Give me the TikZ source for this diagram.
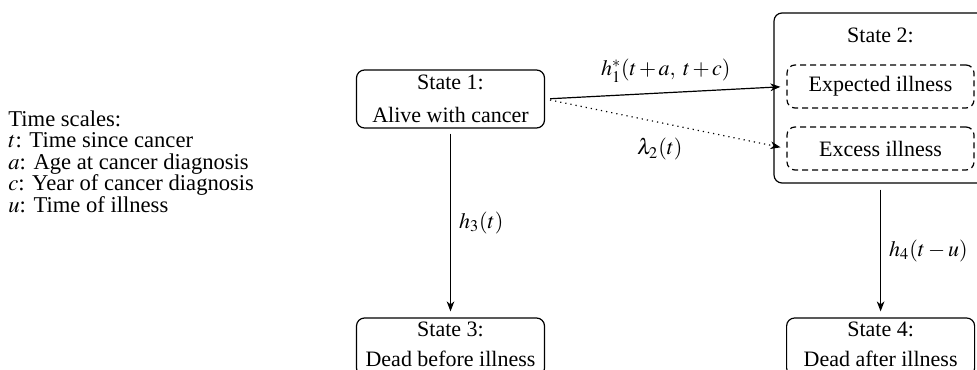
\documentclass[tikz,border=0pt]{standalone}
\usepackage{mathptmx}
\usepackage[no-math]{fontspec}
\setmainfont{Liberation Serif}
\usetikzlibrary{arrows.meta,calc}
\begin{document}
\begin{tikzpicture}[x=0.5pt,y=-0.5pt,
  txt/.style={font=\fontsize{11}{16.5}\selectfont},
  statebox/.style={txt, draw, line width=0.6pt, rounded corners=4pt,
    minimum width=94pt, minimum height=29pt, inner sep=0pt, align=center},
  lowbox/.style={statebox, font=\fontsize{11}{15}\selectfont, text depth=3pt},
  subbox/.style={txt, draw, line width=0.6pt, rounded corners=4pt,
    dash pattern=on 3pt off 2pt, minimum width=93.5pt, minimum height=21.5pt, inner sep=0pt},
  arr/.style={line width=0.6pt, -{Stealth[length=5pt,width=3.8pt,inset=1.5pt]}},
  lab/.style={txt, inner sep=0pt}
]
\useasboundingbox (0,0) rectangle (977,369);

% legend
\node[txt, anchor=north west, inner sep=0pt, align=left,
      font=\fontsize{11.3}{10.8}\selectfont] (legend) at (8,110)
  {Time scales:\\
   $t$: Time since cancer\\
   $a$: Age at cancer diagnosis\\
   $c$: Year of cancer diagnosis\\
   $u$: Time of illness};

% states
\node[statebox] (s1) at (450.5,99) {State 1:\\Alive with cancer};
\node[lowbox] (s3) at (450.5,347) {State 3:\\Dead before illness};
\node[lowbox] (s4) at (880.6,347) {State 4:\\Dead after illness};

\node[draw, line width=0.6pt, rounded corners=4pt, minimum width=107pt,
      minimum height=85pt, inner sep=0pt] (s2) at (881,98) {};
\node[lab, anchor=base] (s2t) at (880.5,43) {State 2:};
\node[subbox] (ex) at (880.5,86.5) {Expected illness};
\node[subbox] (xs) at (880.5,148.5) {Excess illness};

% transitions
\draw[arr, shorten <=2.5pt, shorten >=3pt] (s1.east) -- (ex.west)
  node[lab, midway, above=5pt] {$h_1^*(t\,{+}\,a,\; t\,{+}\,c)$};
\draw[arr, dotted, shorten <=2.5pt, shorten >=3pt] (s1.east) -- (xs.west)
  node[lab, midway, below=7pt, xshift=-3pt] {$\lambda_2(t)$};
\draw[arr, shorten <=2.5pt, shorten >=3pt] (s1.south) -- (s3.north)
  node[lab, midway, right=4pt] {$h_3(t)$};
\draw[arr, shorten <=3pt, shorten >=3pt] (s2.south -| s4.north) -- (s4.north)
  node[lab, midway, right=4pt] {$h_4(t-u)$};
\end{tikzpicture}
\end{document}
